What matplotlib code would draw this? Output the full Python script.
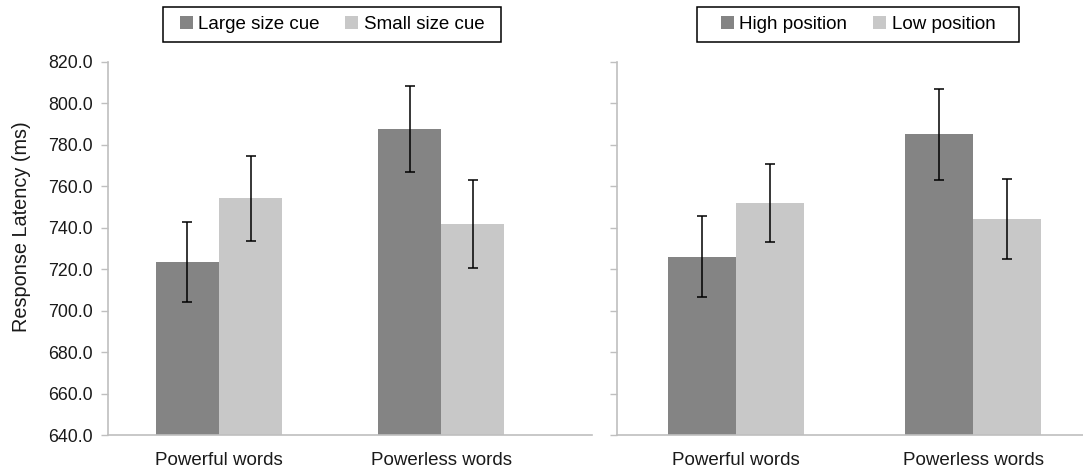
import numpy as np
import matplotlib.pyplot as plt
from matplotlib.patches import Rectangle

plt.rcParams['font.family'] = ['Liberation Sans', 'DejaVu Sans']

categorias = ['Powerful words', 'Powerless words']

# panel izquierdo: tamaño
etiquetas_izq = ['Large size cue', 'Small size cue']
grande = [723.6, 787.5]
grande_err = [19.3, 20.8]
pequeno = [754.1, 741.7]
pequeno_err = [20.4, 21.4]

# panel derecho: posicion
etiquetas_der = ['High position', 'Low position']
alta = [726.0, 785.0]
alta_err = [19.5, 22.0]
baja = [752.0, 744.3]
baja_err = [18.9, 19.3]

oscuro = '#848484'
claro = '#c8c8c8'
gris_eje = '#bfbfbf'
W, H = 1083, 474

fig = plt.figure(figsize=(W / 100, H / 100), dpi=100)
ax1 = fig.add_axes([108 / W, (H - 435) / H, (592 - 108) / W, (435 - 61.7) / H])
ax2 = fig.add_axes([617 / W, (H - 435) / H, (W - 617) / W, (435 - 61.7) / H])


def dibujar(ax, v1, e1, v2, e2, ancho, xlim, etiquetas, leg_x0, leg_x1):
    x = np.arange(len(categorias))
    b1 = ax.bar(x - ancho / 2, v1, ancho, color=oscuro, label=etiquetas[0], zorder=2)
    b2 = ax.bar(x + ancho / 2, v2, ancho, color=claro, label=etiquetas[1], zorder=2)
    ax.errorbar(x - ancho / 2, v1, yerr=e1, fmt='none', ecolor='black', elinewidth=1.1, capsize=3.5, capthick=1.1, zorder=3)
    ax.errorbar(x + ancho / 2, v2, yerr=e2, fmt='none', ecolor='black', elinewidth=1.1, capsize=3.5, capthick=1.1, zorder=3)
    ax.set_ylim(640, 820)
    ax.set_yticks(np.arange(640, 821, 20))
    ax.set_xlim(*xlim)
    ax.set_xticks(x)
    ax.set_xticklabels(categorias, fontsize=13.5, color='#1a1a1a')
    ax.tick_params(axis='x', length=0, pad=12)
    ax.tick_params(axis='y', length=5, color=gris_eje, width=1, labelsize=12.8, labelcolor='#1a1a1a', pad=6)
    for s in ['top', 'right']:
        ax.spines[s].set_visible(False)
    for s in ['left', 'bottom']:
        ax.spines[s].set_color(gris_eje)
        ax.spines[s].set_linewidth(1.2)
    fig.legend([b1, b2], etiquetas, loc='center',
               bbox_to_anchor=((leg_x0 + leg_x1) / 2 / W, 1 - 24.5 / H),
               ncol=2, frameon=False, fontsize=13.5,
               handlelength=0.7, handleheight=0.7,
               handletextpad=0.3, columnspacing=1.35, borderpad=0.5)
    # marco de la leyenda
    fig.patches.append(Rectangle((leg_x0 / W, 1 - 42 / H), (leg_x1 - leg_x0) / W, 35 / H,
                                 transform=fig.transFigure, fill=False,
                                 edgecolor='black', linewidth=1.1))


dibujar(ax1, grande, grande_err, pequeno, pequeno_err, 0.284, (-0.5, 1.68), etiquetas_izq, 163, 501)
dibujar(ax2, alta, alta_err, baja, baja_err, 0.287, (-0.502, 1.464), etiquetas_der, 697, 1019)

ax1.yaxis.set_major_formatter(plt.FormatStrFormatter('%.1f'))
ax1.set_ylabel('Response Latency (ms)', fontsize=14.3, color='#1a1a1a')
ax1.yaxis.set_label_coords(-0.159, 0.557)
ax2.set_yticklabels([])

fig.savefig('out.png', dpi=100)
